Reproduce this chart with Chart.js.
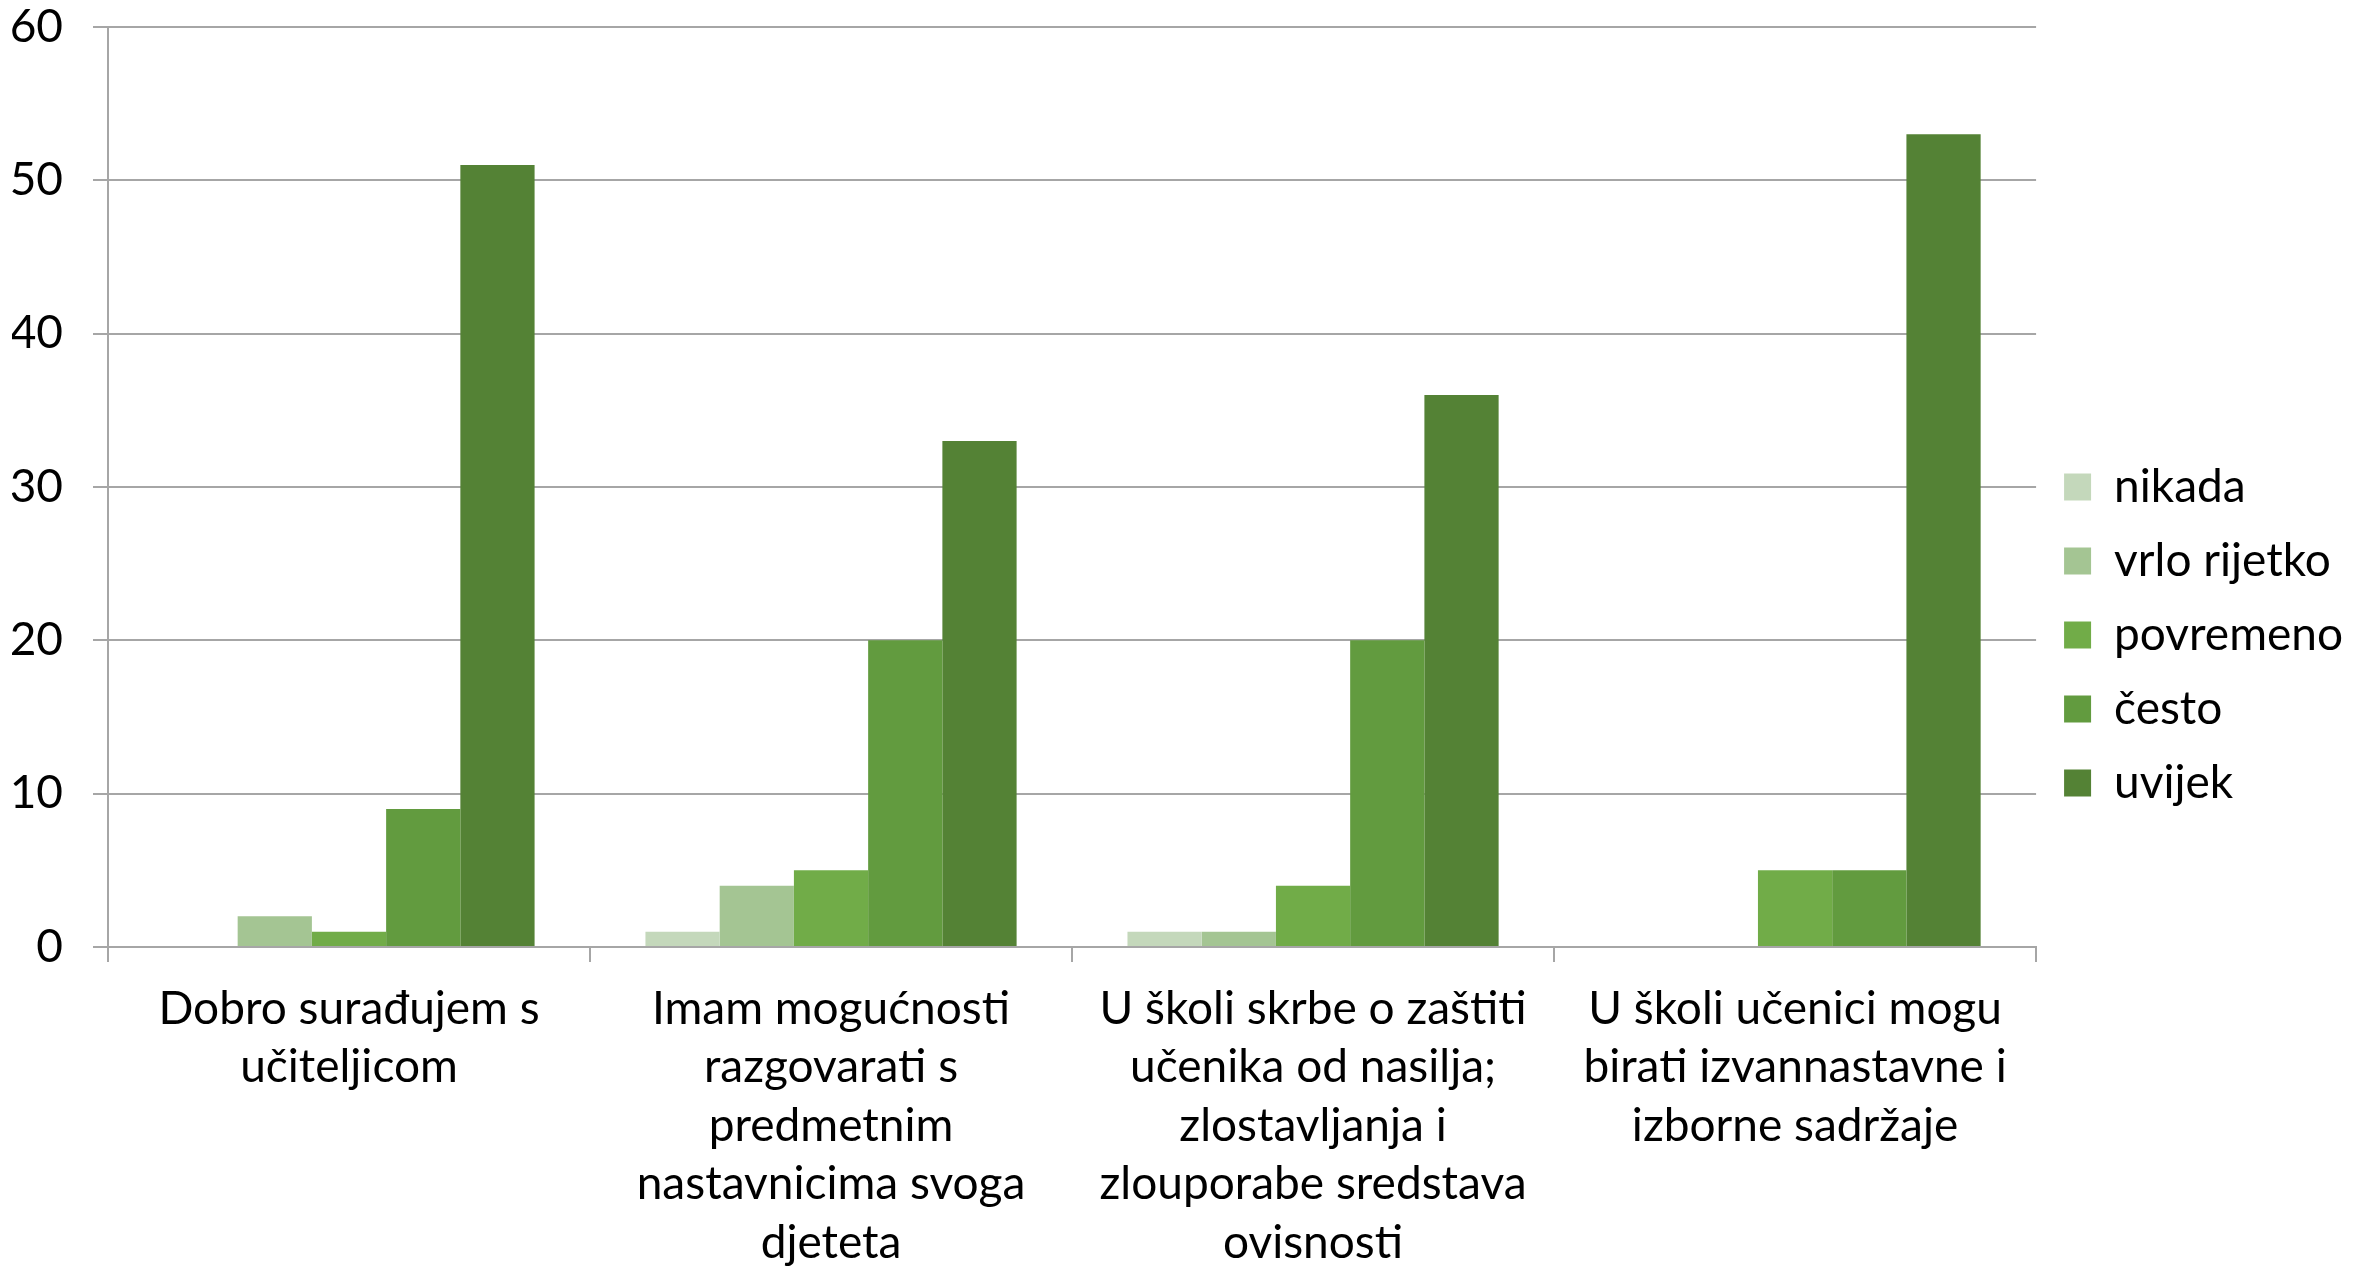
<!DOCTYPE html>
<html>
<head>
<meta charset="utf-8">
<script src="https://cdn.jsdelivr.net/npm/chart.js@4/dist/chart.umd.min.js"></script>
<style>
  html, body { margin: 0; padding: 0; background: #fff; }
  #wrap { width: 2353px; height: 1270px; }
</style>
</head>
<body>
<div id="wrap"><canvas id="chart"></canvas></div>
<script>
// Kategorije (prelomljene u retke kao na originalu)
const categories = [
    ["Dobro surađujem s", "učiteljicom"],
    ["Imam mogućnosti", "razgovarati s", "predmetnim", "nastavnicima svoga", "djeteta"],
    ["U školi skrbe o zaštiti", "učenika od nasilja;", "zlostavljanja i", "zlouporabe sredstava", "ovisnosti"],
    ["U školi učenici mogu", "birati izvannastavne i", "izborne sadržaje"]
];

const seriesNames = ["nikada", "vrlo rijetko", "povremeno", "često", "uvijek"];
const nikada = [0, 1, 1, 0];
const vrloRijetko = [2, 4, 1, 0];
const povremeno = [1, 5, 4, 5];
const cesto = [9, 20, 20, 5];
const uvijek = [51, 33, 36, 53];
const seriesColors = ["#c4d8bb", "#a4c593", "#71ac48", "#629b3f", "#548235"];

const yTicks = [0, 10, 20, 30, 40, 50, 60];

const font = "Lato, 'Open Sans', sans-serif";
const values = [nikada, vrloRijetko, povremeno, cesto, uvijek];

const datasets = seriesNames.map((name, i) => ({
    label: name,
    data: values[i],
    backgroundColor: seriesColors[i],
    borderWidth: 0,
    barPercentage: 1,
    categoryPercentage: 0.77
}));

new Chart(document.getElementById("chart"), {
    type: "bar",
    data: { labels: categories, datasets },
    options: {
        responsive: true,
        maintainAspectRatio: false,
        animation: false,
        layout: { padding: { left: 12, top: 0, right: 0, bottom: 0 } },
        plugins: {
            tooltip: { enabled: false },
            legend: {
                position: "right",
                align: "center",
                labels: {
                    color: "#000",
                    font: { family: font, size: 46 },
                    boxWidth: 27,
                    boxHeight: 27,
                    padding: 28
                }
            }
        },
        scales: {
            x: {
                afterFit: axis => { axis.height = 323; },
                grid: {
                    offset: true,
                    drawOnChartArea: false,
                    tickLength: 15,
                    color: "#a6a6a6",
                    lineWidth: 2
                },
                border: { color: "#a6a6a6", width: 2 },
                ticks: {
                    color: "#000",
                    font: { family: font, size: 46, lineHeight: 1.27 },
                    maxRotation: 0,
                    autoSkip: false,
                    padding: 18
                }
            },
            y: {
                min: yTicks[0],
                max: yTicks[yTicks.length - 1],
                afterBuildTicks: axis => { axis.ticks = yTicks.map(v => ({ value: v })); },
                afterFit: axis => {
                    axis.width = 96;
                    axis.paddingTop = 27;
                    axis.paddingBottom = 0;
                },
                grid: {
                    color: "#a6a6a6",
                    lineWidth: 2,
                    tickLength: 15
                },
                border: { color: "#a6a6a6", width: 2 },
                ticks: {
                    color: "#000",
                    font: { family: font, size: 46 },
                    padding: 30
                }
            }
        }
    }
});
</script>
</body>
</html>
